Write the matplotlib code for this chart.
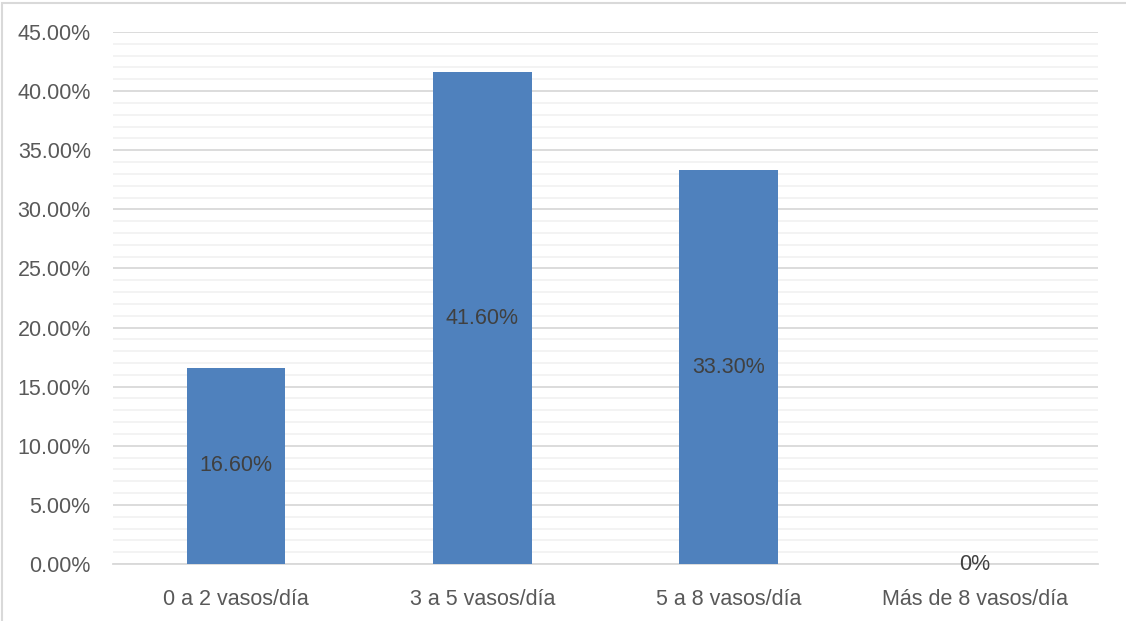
import matplotlib.pyplot as plt
from matplotlib.patches import Rectangle
from matplotlib.ticker import MultipleLocator, FuncFormatter

categories = ["0 a 2 vasos/día", "3 a 5 vasos/día", "5 a 8 vasos/día", "Más de 8 vasos/día"]
values = [16.6, 41.6, 33.3, 0.0]
labels = ["16.60%", "41.60%", "33.30%", "0%"]

BAR_COLOR = "#4F81BD"
TICK_COLOR = "#595959"
LABEL_COLOR = "#404040"
FONT_SIZE = 15.5


def plot_chart(output_path):
    plt.rcParams["font.family"] = ["Liberation Sans", "DejaVu Sans"]
    fig = plt.figure(figsize=(11.26, 6.21), dpi=100)
    ax = fig.add_axes([113 / 1126, 1 - 564 / 621, 985 / 1126, 532 / 621])

    x = range(len(categories))
    ax.bar(x, values, width=0.4, color=BAR_COLOR, zorder=3)

    for xi, v, lab in zip(x, values, labels):
        ax.text(xi, v / 2, lab, ha="center", va="center",
                fontsize=FONT_SIZE, color=LABEL_COLOR, zorder=4)

    ax.set_xlim(-0.5, len(categories) - 0.5)
    ax.set_ylim(0, 45)
    ax.yaxis.set_major_locator(MultipleLocator(5))
    ax.yaxis.set_minor_locator(MultipleLocator(1))
    ax.yaxis.set_major_formatter(FuncFormatter(lambda v, _: f"{v:.2f}%"))
    ax.set_xticks(list(x))
    ax.set_xticklabels(categories)

    ax.grid(axis="y", which="major", color="#D9D9D9", linewidth=1.3, zorder=1)
    ax.grid(axis="y", which="minor", color="#F2F2F2", linewidth=1.3, zorder=1)
    for side in ["top", "right", "left"]:
        ax.spines[side].set_visible(False)
    ax.spines["bottom"].set_color("#D9D9D9")
    ax.spines["bottom"].set_linewidth(1.3)

    ax.tick_params(axis="both", which="both", length=0, labelsize=FONT_SIZE,
                   labelcolor=TICK_COLOR)
    ax.tick_params(axis="y", pad=16)
    ax.tick_params(axis="x", pad=18)

    # light border around the whole chart
    fig.patches.append(Rectangle((2 / 1126, -0.01), 1.02, 1.01 - 2.5 / 621,
                                 transform=fig.transFigure, fill=False,
                                 edgecolor="#D9D9D9", linewidth=1.5))

    fig.savefig(output_path, dpi=100)


def main():
    plot_chart("out.png")


if __name__ == "__main__":
    main()
